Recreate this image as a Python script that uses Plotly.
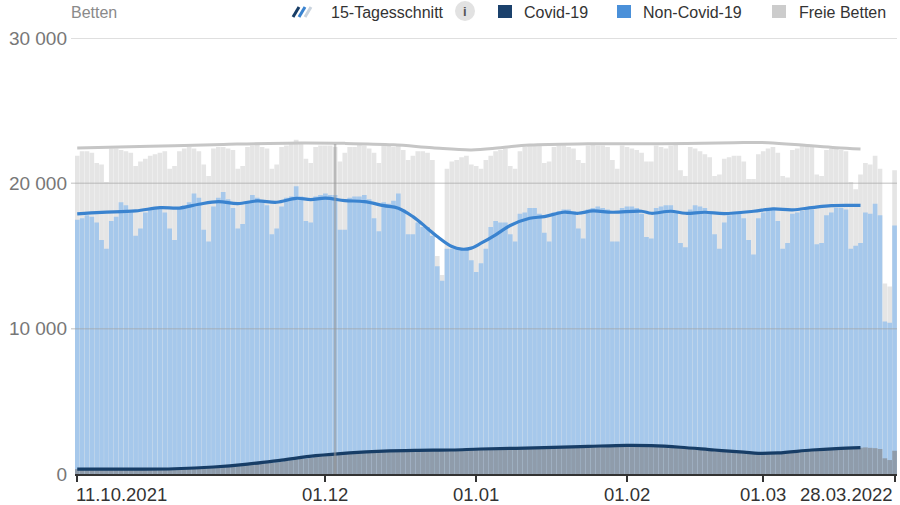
import plotly.graph_objects as go
from datetime import date, datetime, timedelta

# ---------------- data ----------------
start = date(2021, 10, 11)
n_days = 169
days = [start + timedelta(days=i) for i in range(n_days)]

# Covid-19 patients (bottom segment)
covid = [
    340, 350, 340, 330, 330, 320, 330,
    330, 340, 340, 330, 330, 320, 330,
    340, 350, 350, 350, 350, 340, 360,
    370, 390, 400, 410, 420, 410, 430,
    460, 480, 500, 520, 540, 550, 580,
    620, 650, 680, 710, 740, 760, 800,
    860, 900, 950, 1000, 1040, 1060, 1100,
    1170, 1220, 1260, 1300, 1340, 1360, 1390,
    1430, 1460, 1480, 1500, 1520, 1520, 1530,
    1560, 1580, 1590, 1600, 1610, 1600, 1610,
    1630, 1640, 1630, 1630, 1620, 1620, 1630,
    1650, 1660, 1670, 1670, 1680, 1690, 1700,
    1720, 1730, 1740, 1740, 1750, 1740, 1750,
    1770, 1780, 1790, 1800, 1810, 1800, 1800,
    1830, 1840, 1850, 1870, 1880, 1870, 1880,
    1900, 1910, 1930, 1940, 1950, 1940, 1950,
    1970, 1980, 1980, 1970, 1960, 1940, 1930,
    1920, 1910, 1890, 1870, 1850, 1820, 1800,
    1790, 1770, 1740, 1710, 1680, 1650, 1630,
    1610, 1580, 1550, 1520, 1500, 1460, 1430,
    1380, 1430, 1440, 1450, 1450, 1440, 1460,
    1500, 1540, 1580, 1620, 1650, 1660, 1680,
    1710, 1730, 1750, 1770, 1780, 1790, 1800,
    1810, 1830, 1800, 1780, 1720, 1080, 960,
    1600,
]

# occupied beds (Covid-19 + Non-Covid-19), top of the blue bars
belegt = [
    17500, 17600, 17800, 17700, 17300, 16100, 15500,
    17400, 17700, 18700, 18500, 18000, 16400, 16900,
    18000, 18200, 18300, 18300, 18000, 16900, 16100,
    18300, 18500, 18700, 19300, 19000, 16800, 16000,
    18400, 19000, 19400, 18900, 18300, 16900, 17200,
    18700, 19200, 19000, 18800, 18500, 16500, 16900,
    18400, 19000, 19100, 19800, 19100, 17400, 17300,
    19100, 19200, 19300, 19200, 19200, 16800, 16800,
    19000, 19100, 19100, 19200, 18900, 17600, 16700,
    18700, 18600, 18800, 19300, 18200, 16500, 16500,
    17300, 17000, 17000, 16400, 14300, 13300, 15500,
    15500, 15500, 15500, 15500, 14700, 13900, 14500,
    15500, 17000, 17400, 17300, 17300, 16500, 16000,
    17900, 18000, 18300, 18300, 17900, 16600, 16000,
    18000, 18100, 18200, 18200, 18100, 16900, 16200,
    18200, 18300, 18400, 18300, 18200, 16000, 16000,
    18300, 18400, 18400, 18300, 17900, 16300, 16200,
    18300, 18400, 18500, 18500, 18000, 15900, 15600,
    18200, 18500, 18400, 18300, 17900, 16500, 15500,
    17300, 17800, 18000, 17900, 17600, 16100, 15100,
    17600, 18000, 18300, 18200, 17400, 15500, 15900,
    17900, 18000, 18100, 18300, 18200, 15800, 15900,
    17800, 18000, 18300, 18300, 18200, 15500, 15700,
    15900, 18000, 17900, 18600, 17800, 10500, 10400,
    17100,
]

# total beds (occupied + free), top of the grey bars
total = [
    21900, 22200, 22200, 22100, 21400, 21300, 20100,
    22400, 22400, 22300, 22200, 22100, 21200, 21500,
    21700, 21900, 22000, 22100, 22200, 21000, 21200,
    22200, 22400, 22500, 22400, 22200, 21300, 20500,
    22400, 22500, 22500, 22400, 22300, 21000, 21200,
    22500, 22600, 22800, 22500, 22400, 21000, 21300,
    22500, 22600, 22800, 23000, 22800, 21700, 21400,
    22500, 22600, 22600, 22600, 22500, 21500, 22100,
    22500, 22500, 22700, 22600, 22400, 22100, 21400,
    22600, 22600, 22500, 22600, 22300, 21600, 21900,
    22200, 22200, 22100, 21600, 15000, 13700, 21000,
    21500, 21600, 21800, 21900, 21300, 21200, 21000,
    21600, 21900, 22200, 22300, 22400, 21200, 21000,
    22200, 22500, 22600, 22600, 22600, 21400, 21500,
    22500, 22600, 22600, 22500, 22400, 21600, 21400,
    22600, 22700, 22600, 22600, 22500, 21600, 21000,
    22600, 22500, 22400, 22300, 22100, 21500, 21500,
    22600, 22500, 22400, 22600, 22700, 20900, 20500,
    22500, 22400, 22200, 22000, 21800, 20500, 20600,
    21700, 21800, 21900, 21900, 21500, 20300, 20300,
    22000, 22200, 22400, 22500, 22100, 20500, 20400,
    22300, 22400, 22600, 22700, 22500, 20600, 20500,
    22300, 22400, 22400, 22300, 22200, 20100, 19600,
    20600, 21400, 21300, 21900, 21000, 13100, 12900,
    20900,
]

# 15-day averages (read at selected days, day index from 11.10.2021)
avg_total_day = [0, 15, 30, 46, 55, 65, 73, 81, 87, 93, 105, 120, 135, 142, 150, 156, 161]
avg_total = [22430, 22550, 22680, 22780, 22750, 22650, 22450, 22300, 22450, 22640,
             22720, 22720, 22800, 22800, 22600, 22450, 22360]

avg_occ_day = [0, 5, 12, 17, 21, 25, 29, 33, 37, 41, 45, 48, 51, 55, 59, 63, 66, 69, 72, 74,
               77, 79, 81, 83, 86, 89, 93, 96, 100, 103, 106, 110, 116, 118, 122, 125, 129,
               133, 139, 143, 147, 151, 155, 161]
avg_occ = [17900, 18000, 18100, 18330, 18300, 18560, 18740, 18600, 18790, 18700, 18970, 18880,
           18980, 18810, 18740, 18470, 18290, 17710, 16900, 16340, 15650, 15470, 15540, 15880,
           16460, 17100, 17600, 17710, 18010, 17940, 18100, 18010, 18080, 17940, 18080, 17940,
           18010, 17920, 18080, 18240, 18180, 18330, 18470, 18480]

avg_covid_day = [0, 12, 20, 28, 35, 42, 49, 56, 63, 70, 77, 83, 96, 105, 113, 118, 124, 131,
                 137, 140, 144, 151, 156, 161]
avg_covid = [330, 330, 360, 480, 680, 960, 1260, 1460, 1580, 1630, 1650, 1720, 1810, 1900,
             1970, 1950, 1840, 1650, 1500, 1420, 1450, 1650, 1750, 1810]

x_tick_dates = [date(2021, 10, 11), date(2021, 12, 1), date(2022, 1, 1), date(2022, 2, 1),
                date(2022, 3, 1), date(2022, 3, 28)]
x_tick_text = ["11.10.2021", "01.12", "01.01", "01.02", "01.03", "28.03.2022"]
y_tick_vals = [0, 10000, 20000, 30000]
y_tick_text = ["0", "10 000", "20 000", "30 000"]

hover_date = date(2021, 12, 3)

# ---------------- styles ----------------
FONT = "Liberation Sans, Arial, sans-serif"
C_FREE = "#e5e5e5"
C_NONCOV = "#a6c8eb"
C_COV = "#8f9cab"
C_LINE_TOTAL = "#c6c6c6"
C_LINE_OCC = "#3a83cf"
C_LINE_COV = "#173d66"
LEG_COV = "#1b416c"
LEG_NONCOV = "#4a90d9"
LEG_FREE = "#cccccc"

W, H = 900, 505
L, R, T, B = 75, 3, 38, 31
PW, PH = W - L - R, H - T - B


def px(x):
    return (x - L) / PW


def py(y):
    return (H - B - y) / PH


def d(i):
    return start + timedelta(days=i)


fig = go.Figure()

fig.add_trace(go.Bar(x=days, y=total, marker=dict(color=C_FREE, line=dict(width=0)),
                     name="Freie Betten", hoverinfo="skip"))
fig.add_trace(go.Bar(x=days, y=belegt, marker=dict(color=C_NONCOV, line=dict(width=0)),
                     name="Non-Covid-19", hoverinfo="skip"))
fig.add_trace(go.Bar(x=days, y=covid, marker=dict(color=C_COV, line=dict(width=0)),
                     name="Covid-19", hoverinfo="skip"))

fig.add_trace(go.Scatter(x=[d(i) for i in avg_total_day], y=avg_total, mode="lines",
                         line=dict(color=C_LINE_TOTAL, width=3, shape="spline", smoothing=1.0)))
fig.add_trace(go.Scatter(x=[d(i) for i in avg_occ_day], y=avg_occ, mode="lines",
                         line=dict(color=C_LINE_OCC, width=3.2, shape="spline", smoothing=1.0)))
fig.add_trace(go.Scatter(x=[d(i) for i in avg_covid_day], y=avg_covid, mode="lines",
                         line=dict(color=C_LINE_COV, width=3.2, shape="spline", smoothing=1.0)))

shapes = []
# grid lines drawn above bars
for v in y_tick_vals[1:]:
    shapes.append(dict(type="line", xref="paper", yref="y", x0=px(71), x1=1, y0=v, y1=v,
                       line=dict(color="rgba(160,160,160,0.45)", width=1.5), layer="above"))
# hover cursor line
shapes.append(dict(type="line", xref="x", yref="y", x0=hover_date, x1=hover_date, y0=0, y1=22700,
                   line=dict(color="rgba(150,150,150,0.55)", width=2.5), layer="above"))

# legend: 15-Tagesschnitt icon (three slashes)
for k, col in enumerate([C_LINE_COV, C_LINE_OCC, "#c9d3de"]):
    x0 = 293 + 6 * k
    shapes.append(dict(type="line", xref="paper", yref="paper", x0=px(x0), y0=py(17),
                       x1=px(x0 + 6), y1=py(7), line=dict(color=col, width=3)))
# info circle
shapes.append(dict(type="circle", xref="paper", yref="paper", x0=px(455), x1=px(475),
                   y0=py(21), y1=py(1), fillcolor="#e2e2e2", line=dict(width=0)))
# legend squares
for x0, col in [(498, LEG_COV), (617, LEG_NONCOV), (772, LEG_FREE)]:
    shapes.append(dict(type="rect", xref="paper", yref="paper", x0=px(x0), x1=px(x0 + 14),
                       y0=py(18), y1=py(5), fillcolor=col, line=dict(width=0)))

annotations = []
annotations.append(dict(text="Betten", xref="paper", yref="paper", x=px(69), y=py(13),
                        xanchor="left", yanchor="middle", showarrow=False,
                        font=dict(family=FONT, size=16, color="#8a8a8a")))
for x0, txt in [(329, "15-Tagesschnitt"), (522, "Covid-19"), (641, "Non-Covid-19"),
                (797, "Freie Betten")]:
    annotations.append(dict(text=txt, xref="paper", yref="paper", x=px(x0), y=py(12),
                            xanchor="left", yanchor="middle", showarrow=False,
                            font=dict(family=FONT, size=16, color="#333333")))
annotations.append(dict(text="<b>i</b>", xref="paper", yref="paper", x=px(465), y=py(11),
                        xanchor="center", yanchor="middle", showarrow=False,
                        font=dict(family=FONT, size=13, color="#555555")))
# x tick labels
anchors = ["left", "center", "center", "center", "center", "right"]
for dt, txt, anc in zip(x_tick_dates, x_tick_text, anchors):
    annotations.append(dict(text=txt, xref="x", yref="paper", x=dt, y=0, yanchor="top",
                            xanchor=anc, yshift=-8, xshift=(-3 if anc == "left" else 0),
                            showarrow=False,
                            font=dict(family=FONT, size=18.5, color="#333333")))

x_start = datetime(2021, 10, 10, 13)
x_end = datetime(2022, 3, 28, 12)

fig.update_layout(
    width=W, height=H,
    margin=dict(l=L, r=R, t=T, b=B, pad=0),
    paper_bgcolor="white", plot_bgcolor="white",
    barmode="overlay", bargap=0.04,
    showlegend=False,
    shapes=shapes, annotations=annotations,
    font=dict(family=FONT),
    xaxis=dict(type="date", range=[x_start, x_end], showgrid=False, zeroline=False,
               showline=True, linecolor="#333333", linewidth=2,
               ticks="outside", ticklen=6, tickwidth=2, tickcolor="#333333",
               tickmode="array", tickvals=x_tick_dates, showticklabels=False,
               layer="above traces"),
    yaxis=dict(range=[0, 30000], showgrid=False, zeroline=False, showline=False,
               tickmode="array", tickvals=y_tick_vals, ticktext=y_tick_text,
               ticks="", ticklabelstandoff=7,
               tickfont=dict(family=FONT, size=19, color="#777777")),
)

fig.write_html("out.html")
